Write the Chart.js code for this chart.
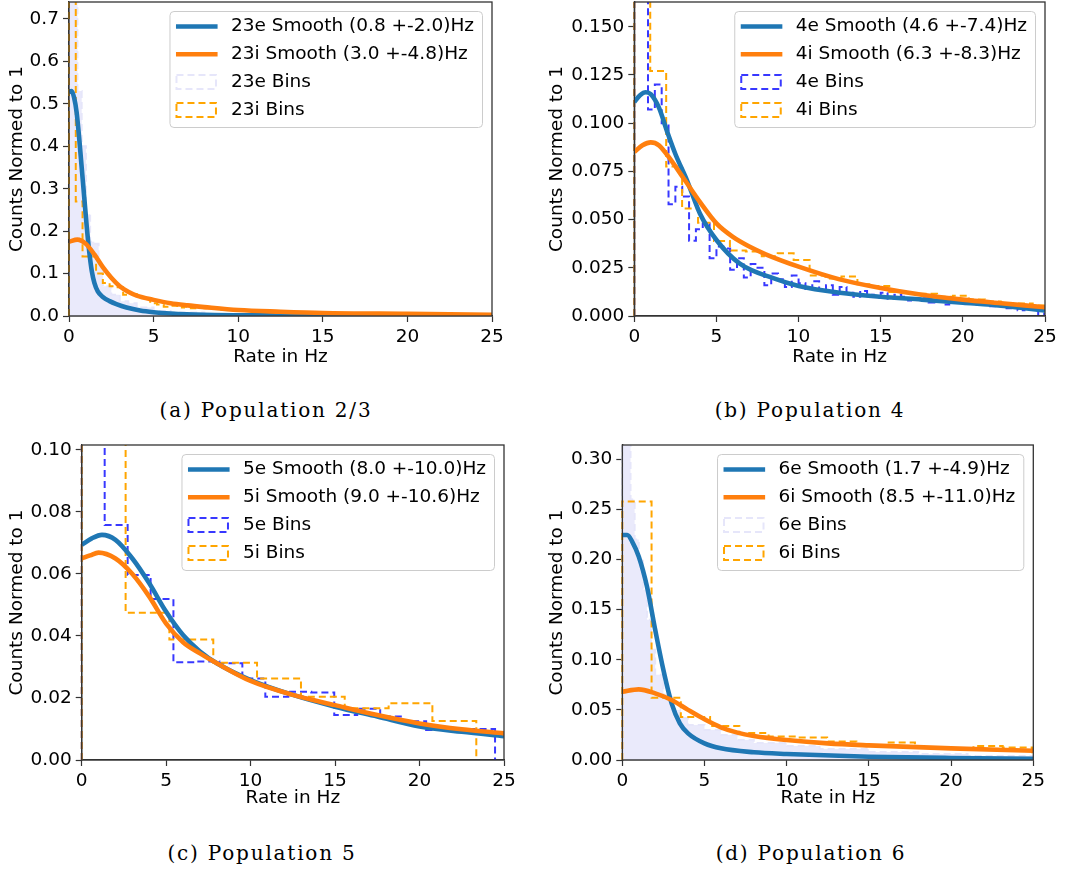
<!DOCTYPE html>
<html><head><meta charset="utf-8">
<script src="https://cdn.jsdelivr.net/npm/chart.js@4.4.0/dist/chart.umd.min.js"></script>
<style>
html,body{margin:0;padding:0;background:#fff;width:1077px;height:872px;overflow:hidden;position:relative}
canvas{position:absolute;display:block}
.cap{position:absolute;font-family:"DejaVu Serif",serif;font-size:20px;letter-spacing:1.8px;color:#000;white-space:nowrap;transform:translate(-50%,-50%)}
</style></head><body>
<canvas id="cA" width="540" height="380" style="left:0;top:0;width:540px;height:380px"></canvas>
<canvas id="cB" width="537" height="380" style="left:540px;top:0;width:537px;height:380px"></canvas>
<canvas id="cC" width="540" height="390" style="left:0;top:430px;width:540px;height:390px"></canvas>
<canvas id="cD" width="537" height="390" style="left:540px;top:430px;width:537px;height:390px"></canvas>
<div class="cap" style="left:266px;top:410px">(a) Population 2/3</div>
<div class="cap" style="left:810px;top:410px">(b) Population 4</div>
<div class="cap" style="left:262px;top:853px">(c) Population 5</div>
<div class="cap" style="left:811px;top:853px">(d) Population 6</div>
<script>
// ---------- shared ticks / labels ----------
const xTicks = [0, 5, 10, 15, 20, 25];
const xTitle = 'Rate in Hz';
const yTitle = 'Counts Normed to 1';

// ---------- (a) Population 2/3 ----------
const aLabels = ['23e Smooth (0.8 +-2.0)Hz', '23i Smooth (3.0 +-4.8)Hz', '23e Bins', '23i Bins'];
const aYTicks = [0, 0.1, 0.2, 0.3, 0.4, 0.5, 0.6, 0.7];
const aYMax = 0.74;
const aSmoothEX = [0, 0.15, 0.3, 0.45, 0.6, 0.75, 0.9, 1.05, 1.2, 1.35, 1.5, 1.7, 2.0, 2.4, 2.8, 3.4, 4.2, 5, 6, 8, 12, 25];
const aSmoothEY = [0.528, 0.530, 0.515, 0.48, 0.42, 0.35, 0.28, 0.21, 0.15, 0.105, 0.078, 0.058, 0.045, 0.035, 0.028, 0.020, 0.013, 0.009, 0.006, 0.003, 0.0015, 0.0005];
const aSmoothIX = [0, 0.5, 1.0, 1.5, 2.0, 2.5, 3.0, 3.5, 4, 5, 6, 7, 8, 10, 12.5, 15, 20, 25];
const aSmoothIY = [0.175, 0.180, 0.170, 0.145, 0.115, 0.090, 0.070, 0.057, 0.048, 0.038, 0.030, 0.025, 0.021, 0.014, 0.010, 0.007, 0.005, 0.003];
const aBinsEEdges = [0, 0.25, 0.5, 0.75, 1.0, 1.25, 1.5, 1.75, 2.0, 2.5, 3.0, 3.5, 4.0, 5, 6, 8, 10, 15, 25];
const aBinsEVals = [0.95, 0.78, 0.53, 0.40, 0.24, 0.175, 0.17, 0.12, 0.07, 0.05, 0.035, 0.03, 0.02, 0.012, 0.008, 0.005, 0.003, 0.001];
const aBinsIEdges = [0, 0.4, 0.8, 1.2, 1.6, 2.0, 2.4, 2.8, 3.2, 3.6, 4.0, 4.4, 4.8, 5.2, 5.6, 6.0, 6.4, 6.8, 7.2, 7.6, 8, 9, 10, 11, 12, 13, 14, 15, 17, 19, 21, 23, 25];
const aBinsIVals = [0.95, 0.27, 0.14, 0.14, 0.10, 0.078, 0.070, 0.068, 0.050, 0.052, 0.045, 0.040, 0.030, 0.027, 0.022, 0.024, 0.020, 0.022, 0.018, 0.019, 0.018, 0.015, 0.013, 0.011, 0.010, 0.009, 0.008, 0.007, 0.006, 0.005, 0.004, 0.003];

// ---------- (b) Population 4 ----------
const bLabels = ['4e Smooth (4.6 +-7.4)Hz', '4i Smooth (6.3 +-8.3)Hz', '4e Bins', '4i Bins'];
const bYTicks = [0, 0.025, 0.05, 0.075, 0.1, 0.125, 0.15];
const bYMax = 0.1628;
const bSmoothEX = [0, 0.35, 0.7, 1.0, 1.5, 2.0, 2.5, 3.2, 4.0, 5.0, 6.4, 8.5, 10, 12.5, 15, 17.5, 20, 22.5, 25];
const bSmoothEY = [0.111, 0.1145, 0.116, 0.115, 0.108, 0.0956, 0.084, 0.0705, 0.053, 0.0394, 0.0273, 0.0195, 0.0156, 0.0121, 0.0100, 0.0085, 0.0069, 0.0052, 0.0028];
const bSmoothIX = [0, 0.5, 1.0, 1.5, 2, 3, 4, 5, 6, 7, 8, 10, 12.5, 15, 17.5, 20, 22.5, 25];
const bSmoothIY = [0.085, 0.0885, 0.090, 0.0885, 0.0835, 0.0714, 0.059, 0.048, 0.041, 0.036, 0.032, 0.0256, 0.019, 0.0145, 0.011, 0.0085, 0.0065, 0.0045];
const bBinsEWidth = 0.4167;
const bBinsEVals = [0.35, 0.22, 0.107, 0.120, 0.100, 0.058, 0.067, 0.062, 0.039, 0.045,
                    0.048, 0.030, 0.036, 0.035, 0.024, 0.030, 0.020, 0.027, 0.025, 0.016,
                    0.022, 0.019, 0.015, 0.021, 0.017, 0.014, 0.018, 0.013, 0.016, 0.011,
                    0.015, 0.012, 0.010, 0.013, 0.011, 0.010, 0.012, 0.009, 0.011, 0.010,
                    0.008, 0.009, 0.010, 0.007, 0.008, 0.006, 0.009, 0.007, 0.008, 0.007,
                    0.006, 0.007, 0.005, 0.006, 0.004, 0.005, 0.003, 0.005, 0.004, 0.001];
const bBinsIWidth = 0.97;
const bBinsIVals = [0.30, 0.127, 0.0775, 0.0558, 0.0484, 0.0389, 0.0340, 0.0335, 0.0310, 0.0325,
                    0.0290, 0.0210, 0.0195, 0.0205, 0.0165, 0.0155, 0.0125, 0.0115, 0.0115, 0.0100,
                    0.0105, 0.0085, 0.0075, 0.0065, 0.0065, 0.0055];

// ---------- (c) Population 5 ----------
const cLabels = ['5e Smooth (8.0 +-10.0)Hz', '5i Smooth (9.0 +-10.6)Hz', '5e Bins', '5i Bins'];
const cYTicks = [0, 0.02, 0.04, 0.06, 0.08, 0.10];
const cYMax = 0.1016;
const cSmoothEX = [0, 0.6, 1.2, 2, 3, 4, 5, 6, 7, 8, 10, 12.5, 15, 17.5, 20, 22.5, 25];
const cSmoothEY = [0.0694, 0.0715, 0.0726, 0.071, 0.065, 0.057, 0.0478, 0.0403, 0.035, 0.0312, 0.0258, 0.021, 0.0172, 0.014, 0.0108, 0.0091, 0.0077];
const cSmoothIX = [0, 0.5, 1, 2, 3, 4, 5, 6, 7, 8, 10, 12.5, 15, 17.5, 20, 22.5, 25];
const cSmoothIY = [0.065, 0.066, 0.0669, 0.065, 0.060, 0.0527, 0.044, 0.038, 0.0344, 0.0312, 0.0255, 0.021, 0.0177, 0.0145, 0.0118, 0.0099, 0.0086];
const cBinsEEdges = [0, 1.36, 2.72, 4.08, 5.43, 6.79, 8.15, 9.51, 10.87, 12.23, 13.59, 14.95, 16.31, 17.67, 19.03, 20.39, 21.75, 23.11, 24.47];
const cBinsEVals = [0.13, 0.0758, 0.0597, 0.0519, 0.0315, 0.0318, 0.0312, 0.0263, 0.0204, 0.0220, 0.0218, 0.0145, 0.0165, 0.0140, 0.0125, 0.0097, 0.0100, 0.0100];
const cBinsIEdges = [0, 2.6, 5.19, 7.79, 10.38, 12.98, 15.57, 18.17, 20.76, 23.36];
const cBinsIVals = [0.16, 0.0475, 0.0389, 0.0314, 0.0263, 0.0204, 0.0167, 0.0183, 0.0126];

// ---------- (d) Population 6 ----------
const dLabels = ['6e Smooth (1.7 +-4.9)Hz', '6i Smooth (8.5 +-11.0)Hz', '6e Bins', '6i Bins'];
const dYTicks = [0, 0.05, 0.10, 0.15, 0.20, 0.25, 0.30];
const dYMax = 0.3143;
const dSmoothEX = [0, 0.3, 0.6, 1.0, 1.5, 2.0, 2.5, 3.0, 3.5, 4, 5, 6, 8, 10, 15, 20, 25];
const dSmoothEY = [0.2245, 0.2245, 0.218, 0.203, 0.173, 0.13, 0.0898, 0.0565, 0.0366, 0.0266, 0.0166, 0.0116, 0.0077, 0.006, 0.0033, 0.002, 0.0013];
const dSmoothIX = [0, 1, 2, 3, 4, 5, 6, 7, 8, 10, 12.5, 15, 20, 25];
const dSmoothIY = [0.068, 0.0705, 0.0665, 0.0599, 0.050, 0.0406, 0.0326, 0.0273, 0.024, 0.020, 0.0166, 0.0146, 0.0116, 0.0093];
const dBinsEEdges = [0, 0.25, 0.5, 0.75, 1.0, 1.25, 1.5, 1.75, 2.0, 2.5, 3.0, 3.5, 4.0, 5, 6, 7, 8, 10, 12, 15, 18, 21, 25];
const dBinsEVals = [0.60, 0.45, 0.26, 0.22, 0.20, 0.17, 0.14, 0.11, 0.085, 0.065, 0.05, 0.042, 0.035, 0.03, 0.025, 0.02, 0.017, 0.014, 0.011, 0.008, 0.006, 0.004];
const dBinsIWidth = 1.78;
const dBinsIVals = [0.258, 0.062, 0.043, 0.034, 0.027, 0.0235, 0.0225, 0.0185, 0.015, 0.0175, 0.012, 0.011, 0.014, 0.0125];

// ---------- helpers ----------
const FONT = {family: "'DejaVu Sans', sans-serif", size: 18.5};
Chart.defaults.font.family = FONT.family;
Chart.defaults.font.size = FONT.size;
Chart.defaults.color = '#000';

function edgesFromWidth(w, n) { const e = []; for (let i = 0; i <= n; i++) e.push(+(i * w).toFixed(4)); return e; }
function histPoints(edges, vals) {
  const p = [{x: edges[0], y: 0}];
  for (let i = 0; i < vals.length; i++) { p.push({x: edges[i], y: vals[i]}); p.push({x: edges[i + 1], y: vals[i]}); }
  p.push({x: edges[vals.length], y: 0});
  return p;
}
function curvePoints(xs, ys) { return xs.map((x, i) => ({x: x, y: ys[i]})); }

const BLUE = '#1f77b4', ORANGE = '#ff7f0e', BINBLUE = 'rgba(0,0,255,0.78)', BINORANGE = '#ffa500', LAV = '#e6e6fa';

const framePlugin = {
  id: 'frame',
  afterDatasetsDraw(chart) {
    const a = chart.chartArea, ctx = chart.ctx;
    ctx.save(); ctx.strokeStyle = '#333'; ctx.lineWidth = 1.3;
    ctx.strokeRect(a.left, a.top, a.right - a.left, a.bottom - a.top);
    ctx.restore();
  }
};
function rrect(ctx, x, y, w, h, r) {
  ctx.beginPath(); ctx.moveTo(x + r, y); ctx.lineTo(x + w - r, y); ctx.arcTo(x + w, y, x + w, y + r, r);
  ctx.lineTo(x + w, y + h - r); ctx.arcTo(x + w, y + h, x + w - r, y + h, r);
  ctx.lineTo(x + r, y + h); ctx.arcTo(x, y + h, x, y + h - r, r);
  ctx.lineTo(x, y + r); ctx.arcTo(x, y, x + r, y, r); ctx.closePath();
}
const legendPlugin = {
  id: 'mplLegend',
  afterDraw(chart) {
    const items = chart.options.plugins.mplLegend.items;
    const ctx = chart.ctx, a = chart.chartArea;
    ctx.save();
    ctx.font = FONT.size + 'px ' + FONT.family;
    const tw = Math.max(...items.map(it => ctx.measureText(it.label).width));
    const w = 6 + 41.6 + 13.4 + tw + 8.5, h = 116;
    const x0 = a.right - 9.5 - w, y0 = a.top + 9.5;
    rrect(ctx, x0, y0, w, h, 4);
    ctx.fillStyle = 'rgba(255,255,255,0.8)'; ctx.fill();
    ctx.strokeStyle = '#cccccc'; ctx.lineWidth = 1; ctx.stroke();
    items.forEach((it, i) => {
      const cy = y0 + 15 + i * 27.8, hx = x0 + 6;
      if (it.kind === 'line') {
        ctx.setLineDash([]); ctx.beginPath(); ctx.moveTo(hx, cy); ctx.lineTo(hx + 41.6, cy);
        ctx.strokeStyle = it.color; ctx.lineWidth = 4.5; ctx.stroke();
      } else {
        ctx.setLineDash([7, 4]); ctx.strokeStyle = it.color; ctx.lineWidth = 2;
        ctx.strokeRect(hx + 0.5, cy - 7, 39.5, 14); ctx.setLineDash([]);
      }
      ctx.fillStyle = '#000'; ctx.textBaseline = 'middle'; ctx.textAlign = 'left';
      ctx.fillText(it.label, hx + 41.6 + 13.4, cy);
    });
    ctx.restore();
  }
};

function buildPanel(id, p) {
  const binClip = {left: 1.5, top: 0, right: 0, bottom: 0};
  const datasets = [
    {label: p.labels[0], data: curvePoints(p.eX, p.eY), borderColor: BLUE, borderWidth: 4.6, pointRadius: 0,
     cubicInterpolationMode: 'monotone', fill: false, order: 1, clip: 0},
    {label: p.labels[1], data: curvePoints(p.iX, p.iY), borderColor: ORANGE, borderWidth: 4.6, pointRadius: 0,
     cubicInterpolationMode: 'monotone', fill: false, order: 0, clip: 0},
    {label: p.labels[2], data: histPoints(p.eEdges, p.eVals), borderColor: p.eColor, borderWidth: 2, borderDash: [7, 4],
     pointRadius: 0, tension: 0, fill: p.eFill ? 'origin' : false, backgroundColor: p.eFill || 'transparent', order: 3, clip: binClip},
    {label: p.labels[3], data: histPoints(p.iEdges, p.iVals), borderColor: BINORANGE, borderWidth: 2, borderDash: [7, 4],
     pointRadius: 0, tension: 0, fill: false, order: 2, clip: binClip}
  ];
  const gridOpts = {drawOnChartArea: false, drawTicks: true, tickLength: 6, tickWidth: 1.2, tickColor: '#333'};
  new Chart(document.getElementById(id), {
    type: 'line',
    data: {datasets: datasets},
    options: {
      responsive: false, animation: false, events: [],
      layout: {padding: {top: p.padTop, right: p.padRight, left: 0, bottom: 0}},
      plugins: {legend: {display: false}, tooltip: {enabled: false},
        mplLegend: {items: [
          {kind: 'line', color: BLUE, label: p.labels[0]},
          {kind: 'line', color: ORANGE, label: p.labels[1]},
          {kind: 'patch', color: p.eColor, label: p.labels[2]},
          {kind: 'patch', color: BINORANGE, label: p.labels[3]}]}},
      scales: {
        x: {type: 'linear', min: 0, max: 25,
            afterBuildTicks: s => { s.ticks = xTicks.map(v => ({value: v})); },
            ticks: {font: FONT, color: '#000', padding: 4, maxRotation: 0, callback: v => String(v)},
            grid: gridOpts, border: {display: true, color: '#333', width: 1.3},
            title: {display: true, text: xTitle, font: FONT, color: '#000', padding: {top: 0, bottom: p.xTitlePB}},
            afterFit: s => { s.height = p.xH; s.paddingLeft = 0; s.paddingRight = 0; }},
        y: {type: 'linear', min: 0, max: p.yMax,
            afterBuildTicks: s => { s.ticks = p.yTicks.map(v => ({value: v})); },
            ticks: {font: FONT, color: '#000', padding: 4, callback: v => v.toFixed(p.dec)},
            grid: gridOpts, border: {display: true, color: '#333', width: 1.3},
            title: {display: true, text: yTitle, font: FONT, color: '#000', padding: {top: 6.4, bottom: 0}},
            afterFit: s => { s.width = p.yW; s.paddingTop = 0; s.paddingBottom = 0; }}
      }
    },
    plugins: [framePlugin, legendPlugin]
  });
}

buildPanel('cA', {labels: aLabels, yTicks: aYTicks, yMax: aYMax, dec: 1,
  eX: aSmoothEX, eY: aSmoothEY, iX: aSmoothIX, iY: aSmoothIY,
  eEdges: aBinsEEdges, eVals: aBinsEVals, eColor: LAV, eFill: 'rgba(230,230,250,0.85)',
  iEdges: aBinsIEdges, iVals: aBinsIVals,
  yW: 69, padTop: 2, padRight: 48, xH: 64, xTitlePB: 11.9});
buildPanel('cB', {labels: bLabels, yTicks: bYTicks, yMax: bYMax, dec: 3,
  eX: bSmoothEX, eY: bSmoothEY, iX: bSmoothIX, iY: bSmoothIY,
  eEdges: edgesFromWidth(bBinsEWidth, bBinsEVals.length), eVals: bBinsEVals, eColor: BINBLUE, eFill: null,
  iEdges: edgesFromWidth(bBinsIWidth, bBinsIVals.length), iVals: bBinsIVals,
  yW: 94.3, padTop: 2, padRight: 32, xH: 64, xTitlePB: 11.9});
buildPanel('cC', {labels: cLabels, yTicks: cYTicks, yMax: cYMax, dec: 2,
  eX: cSmoothEX, eY: cSmoothEY, iX: cSmoothIX, iY: cSmoothIY,
  eEdges: cBinsEEdges, eVals: cBinsEVals, eColor: BINBLUE, eFill: null,
  iEdges: cBinsIEdges, iVals: cBinsIVals,
  yW: 81.7, padTop: 15, padRight: 36, xH: 60, xTitlePB: 10.9});
buildPanel('cD', {labels: dLabels, yTicks: dYTicks, yMax: dYMax, dec: 2,
  eX: dSmoothEX, eY: dSmoothEY, iX: dSmoothIX, iY: dSmoothIY,
  eEdges: dBinsEEdges, eVals: dBinsEVals, eColor: LAV, eFill: 'rgba(230,230,250,0.85)',
  iEdges: edgesFromWidth(dBinsIWidth, dBinsIVals.length), iVals: dBinsIVals,
  yW: 82.3, padTop: 15, padRight: 43.7, xH: 60, xTitlePB: 10.9});
</script>
</body></html>
